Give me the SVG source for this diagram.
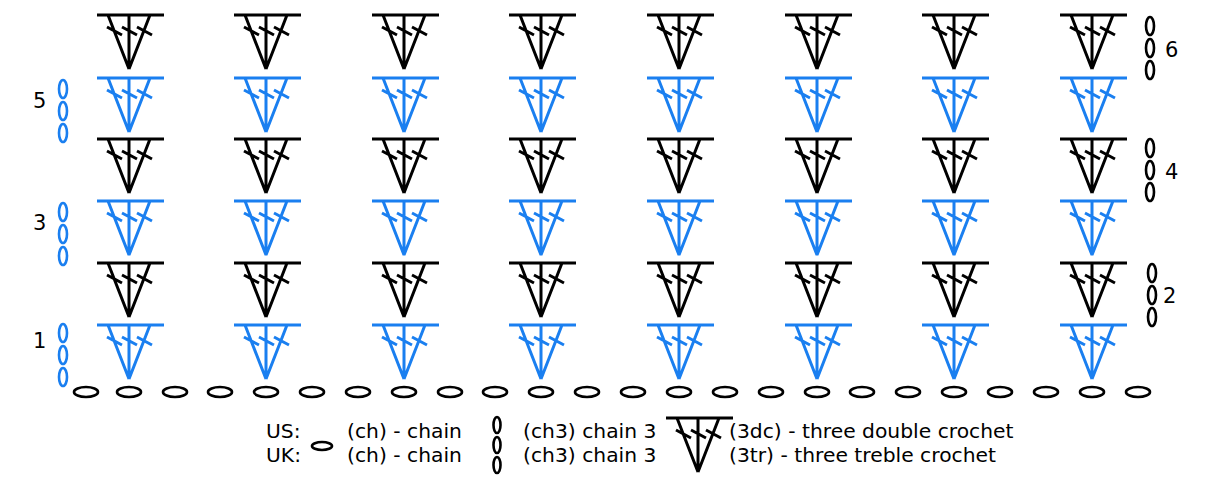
<svg xmlns="http://www.w3.org/2000/svg" width="1206" height="494" viewBox="0 0 1206 494">
<style>
text{font-family:"DejaVu Sans",Verdana,sans-serif;font-size:21px;fill:#000}
.lg{font-size:20.3px}
.ch{fill:none;stroke-width:2.6}
.k{stroke:#000;color:#000}
.b{stroke:#1a7ff0;color:#1a7ff0}
</style>
<defs>
<symbol id="st" overflow="visible"><g fill="none" stroke="currentColor" stroke-width="3">
<path d="M-32 0H35M-21 0L0 54M0 0V54M21 0L0 54M-22 12L-7 20M-7 12L8 20M8 12L23 20"/></g></symbol>
<ellipse id="hc" rx="12" ry="5"/>
<ellipse id="vc" rx="4" ry="9"/>
</defs>
<g id="stitches">
<g class="k"><use href="#st" x="129" y="15"/><use href="#st" x="266" y="15"/><use href="#st" x="404" y="15"/><use href="#st" x="541" y="15"/><use href="#st" x="679" y="15"/><use href="#st" x="817" y="15"/><use href="#st" x="954" y="15"/><use href="#st" x="1092" y="15"/>
<use href="#st" x="129" y="139"/><use href="#st" x="266" y="139"/><use href="#st" x="404" y="139"/><use href="#st" x="541" y="139"/><use href="#st" x="679" y="139"/><use href="#st" x="817" y="139"/><use href="#st" x="954" y="139"/><use href="#st" x="1092" y="139"/>
<use href="#st" x="129" y="263"/><use href="#st" x="266" y="263"/><use href="#st" x="404" y="263"/><use href="#st" x="541" y="263"/><use href="#st" x="679" y="263"/><use href="#st" x="817" y="263"/><use href="#st" x="954" y="263"/><use href="#st" x="1092" y="263"/></g>
<g class="b"><use href="#st" x="129" y="78"/><use href="#st" x="266" y="78"/><use href="#st" x="404" y="78"/><use href="#st" x="541" y="78"/><use href="#st" x="679" y="78"/><use href="#st" x="817" y="78"/><use href="#st" x="954" y="78"/><use href="#st" x="1092" y="78"/>
<use href="#st" x="129" y="201"/><use href="#st" x="266" y="201"/><use href="#st" x="404" y="201"/><use href="#st" x="541" y="201"/><use href="#st" x="679" y="201"/><use href="#st" x="817" y="201"/><use href="#st" x="954" y="201"/><use href="#st" x="1092" y="201"/>
<use href="#st" x="129" y="325"/><use href="#st" x="266" y="325"/><use href="#st" x="404" y="325"/><use href="#st" x="541" y="325"/><use href="#st" x="679" y="325"/><use href="#st" x="817" y="325"/><use href="#st" x="954" y="325"/><use href="#st" x="1092" y="325"/></g>
</g>
<g id="foundation" class="ch k">
<use href="#hc" x="86" y="392"/><use href="#hc" x="129" y="392"/><use href="#hc" x="175" y="392"/><use href="#hc" x="220" y="392"/><use href="#hc" x="266" y="392"/><use href="#hc" x="312" y="392"/><use href="#hc" x="358" y="392"/><use href="#hc" x="404" y="392"/><use href="#hc" x="450" y="392"/><use href="#hc" x="495" y="392"/><use href="#hc" x="541" y="392"/><use href="#hc" x="587" y="392"/><use href="#hc" x="633" y="392"/><use href="#hc" x="679" y="392"/><use href="#hc" x="725" y="392"/><use href="#hc" x="771" y="392"/><use href="#hc" x="817" y="392"/><use href="#hc" x="862" y="392"/><use href="#hc" x="908" y="392"/><use href="#hc" x="954" y="392"/><use href="#hc" x="1000" y="392"/><use href="#hc" x="1046" y="392"/><use href="#hc" x="1092" y="392"/><use href="#hc" x="1138" y="392"/>
</g>
<g id="turning-left" class="ch b">
<use href="#vc" x="63" y="89"/><use href="#vc" x="63" y="111"/><use href="#vc" x="63" y="133"/>
<use href="#vc" x="63" y="212"/><use href="#vc" x="63" y="234"/><use href="#vc" x="63" y="256"/>
<use href="#vc" x="63" y="333"/><use href="#vc" x="63" y="355"/><use href="#vc" x="63" y="377"/>
</g>
<g id="turning-right" class="ch k">
<use href="#vc" x="1150" y="26"/><use href="#vc" x="1150" y="48"/><use href="#vc" x="1150" y="70"/>
<use href="#vc" x="1150" y="148"/><use href="#vc" x="1150" y="170"/><use href="#vc" x="1150" y="192"/>
<use href="#vc" x="1152" y="273"/><use href="#vc" x="1152" y="295"/><use href="#vc" x="1152" y="317"/>
</g>
<g id="row-labels">
<text x="33" y="108">5</text><text x="33" y="230">3</text><text x="33" y="348">1</text>
<text x="1165" y="57">6</text><text x="1165" y="179">4</text><text x="1163" y="303">2</text>
</g>
<g id="legend">
<text class="lg" x="266" y="438">US:</text><text class="lg" x="266" y="462">UK:</text>
<ellipse class="ch k" cx="322" cy="446" rx="10" ry="4"/>
<text class="lg" x="347" y="438">(ch) - chain</text><text class="lg" x="347" y="462">(ch) - chain</text>
<ellipse class="ch k" cx="497" cy="425" rx="3.5" ry="8"/><ellipse class="ch k" cx="497" cy="445" rx="3.5" ry="8"/><ellipse class="ch k" cx="497" cy="465" rx="3.5" ry="8"/>
<text class="lg" x="523" y="438">(ch3) chain 3</text><text class="lg" x="523" y="462">(ch3) chain 3</text>
<g class="k"><use href="#st" x="698" y="418"/></g>
<text class="lg" x="729" y="438">(3dc) - three double crochet</text><text class="lg" x="729" y="462">(3tr) - three treble crochet</text>
</g>
</svg>
